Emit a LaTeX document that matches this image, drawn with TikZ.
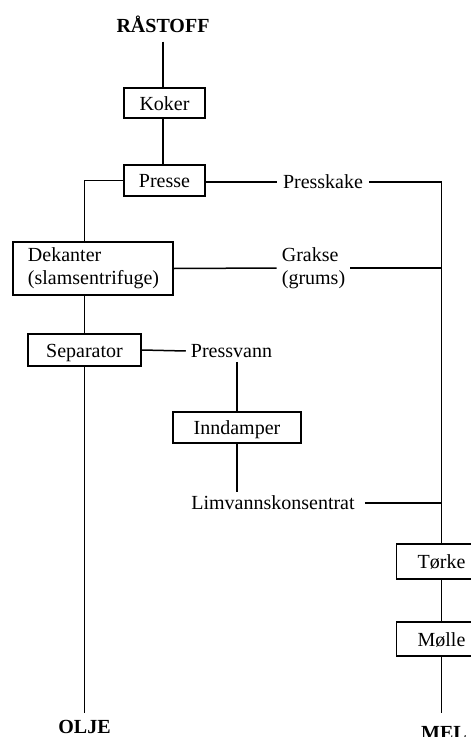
\documentclass[tikz,border=0pt]{standalone}
\usepackage{fontspec}
\setmainfont{Liberation Serif}
\begin{document}
\begin{tikzpicture}[x=1bp,y=-1bp,
  txt/.style={font=\fontsize{20bp}{23bp}\selectfont},
  box/.style={txt,draw,line width=1.7bp,inner xsep=0pt,inner ysep=0pt,text height=14bp,text depth=0bp},
  mbox/.style={txt,draw,line width=1.7bp,inner ysep=0pt},
  lbl/.style={txt,inner xsep=6bp,inner ysep=4bp},
  endlbl/.style={font=\fontsize{20bp}{23bp}\selectfont\bfseries,inner sep=0pt,inner ysep=9bp},
  conn/.style={line width=1.5bp}]
\useasboundingbox (0,0) rectangle (471,737);
\node[endlbl] (rastoff) at (163,24) {RÅSTOFF};
\node[box,minimum width=81bp,minimum height=30bp] (koker) at (164.5,103) {Koker};
\node[box,minimum width=81bp,minimum height=31bp] (presse) at (164.5,180.5) {Presse};
\node[lbl] (presskake) at (323,182) {Presskake};
\node[mbox,minimum width=160bp,minimum height=53bp,inner xsep=15bp,text width=130bp,align=left] (dek) at (93,268.5) {Dekanter\\(slamsentrifuge)};
\node[lbl,align=left,inner xsep=5bp] (grakse) at (313.5,268) {Grakse\\(grums)};
\node[box,minimum width=113bp,minimum height=32bp] (sep) at (84.5,350) {Separator};
\node[lbl,inner xsep=5bp] (pressvann) at (231.5,351) {Pressvann};
\node[box,minimum width=128bp,minimum height=31bp] (indamp) at (237,427.5) {Inndamper};
\node[lbl,inner xsep=10bp] (limvann) at (273,503) {Limvannskonsentrat};
\node[box,minimum width=90bp,minimum height=35bp] (torke) at (441.5,561.5) {Tørke};
\node[box,minimum width=90bp,minimum height=34bp] (molle) at (441.5,639) {Mølle};
\node[endlbl,inner ysep=7bp] (olje) at (84.5,726.5) {OLJE};
\node[endlbl,inner ysep=11bp] (mel) at (444,733) {MEL};
\draw[conn] (rastoff.south) -- (rastoff.south |- koker.north);
\draw[conn] (koker.south -| rastoff.south) -- (rastoff.south |- presse.north);
\draw[conn] (presse.west) -| (dek.north -| sep.north);
\draw[conn] (presse.east |- presskake.west) -- (presskake.west);
\draw[conn] (presskake.east) -| (torke.north);
\draw[conn] (dek.east) -- (grakse.west);
\draw[conn] (grakse.east) -- (grakse.east -| torke.north);
\draw[conn] (dek.south -| sep.north) -- (sep.north);
\draw[conn] (sep.east) -- (pressvann.west);
\draw[conn] (pressvann.south -| indamp.north) -- (indamp.north);
\draw[conn] (indamp.south) -- (limvann.north -| indamp.south);
\draw[conn] (limvann.east) -- (limvann.east -| torke.north);
\draw[conn] (sep.south) -- (olje.north);
\draw[conn] (torke.south) -- (molle.north);
\draw[conn] (molle.south) -- (molle.south |- olje.north);
\end{tikzpicture}
\end{document}
